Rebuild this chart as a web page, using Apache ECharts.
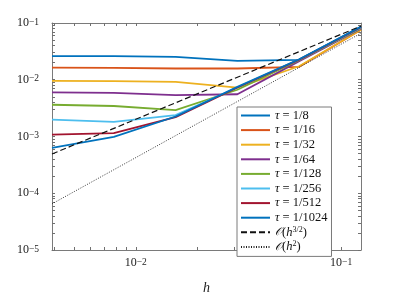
<!DOCTYPE html>
<html>
<head>
<meta charset="utf-8">
<script src="https://cdn.jsdelivr.net/npm/echarts@6/dist/echarts.min.js"></script>
<style>html,body{margin:0;padding:0;background:#fff}#c{width:399px;height:300px}</style>
</head>
<body>
<div id="c"></div>
<script>
// ---- data ----
const hValues = [1/256, 1/128, 1/64, 1/32, 1/16, 1/8];
const tau8    = [0.0261, 0.0261, 0.0253, 0.0215, 0.0224, 0.0867];
const tau16   = [0.0164, 0.0162, 0.0158, 0.0158, 0.0169, 0.0762];
const tau32   = [0.00955, 0.00945, 0.00919, 0.00728, 0.0173, 0.0762];
const tau64   = [0.0060, 0.00586, 0.00535, 0.00555, 0.0213, 0.079];
const tau128  = [0.00363, 0.00345, 0.00292, 0.00667, 0.0221, 0.081];
const tau256  = [0.00198, 0.00181, 0.00239, 0.0073, 0.0226, 0.0824];
const tau512  = [0.00108, 0.00115, 0.0022, 0.0073, 0.0226, 0.084];
const tau1024 = [0.000628, 0.000988, 0.00225, 0.00748, 0.023, 0.0857];
const refH    = [1/256, 1/8];
const ref32   = [0.000492, 0.0884];
const ref2    = [0.000065, 0.066];
const seriesNames = ['τ = 1/8','τ = 1/16','τ = 1/32','τ = 1/64','τ = 1/128','τ = 1/256','τ = 1/512','τ = 1/1024'];
const refNames = ['O(h^{3/2})','O(h^2)'];
const xTickLabels = [0.01, 0.1];
const yTickLabels = [1e-5, 1e-4, 1e-3, 1e-2, 1e-1];
const xTicks = [0.004,0.005,0.006,0.007,0.008,0.009,0.01,0.02,0.03,0.04,0.05,0.06,0.07,0.08,0.09,0.1];
const yTicks = [];
[1e-5,1e-4,1e-3,1e-2].forEach(b => { for (let k = 1; k <= 9; k++) yTicks.push(b * k); });
yTicks.push(1e-1);
const xMin = 1/256, xMax = 1/8, yMin = 1e-5, yMax = 1e-1;

const colors = ['#0072BD','#D95319','#EDB120','#7E2F8E','#77AC30','#4DBEEE','#A2142F','#0072BD'];
const allTau = [tau8,tau16,tau32,tau64,tau128,tau256,tau512,tau1024];

const axisColor = '#7a7a7a';
const serif = 'Liberation Serif';

function powLabel(v) {
  const e = Math.log10(v);
  if (Math.abs(e - Math.round(e)) > 1e-6) return '';
  return '{b|10}{s|−' + Math.abs(Math.round(e)) + '}';
}
const labelRich = {
  b: {fontFamily: serif, fontSize: 12, color: '#222'},
  s: {fontFamily: serif, fontSize: 9.5, color: '#222', verticalAlign: 'top'}
};

const series = [];
allTau.forEach((arr, i) => {
  series.push({
    name: seriesNames[i], type: 'line',
    data: hValues.map((h, j) => [h, arr[j]]),
    showSymbol: false, symbol: 'none', symbolSize: 0,
    lineStyle: {color: colors[i], width: 1.8},
    itemStyle: {color: colors[i]},
    z: 3
  });
});
series.push({
  name: refNames[0], type: 'line', data: refH.map((h, j) => [h, ref32[j]]),
  showSymbol: false, symbol: 'none', symbolSize: 0,
  lineStyle: {color: '#111', width: 1.2, type: [6, 3]}, itemStyle: {color: '#111'}, z: 3
});
series.push({
  name: refNames[1], type: 'line', data: refH.map((h, j) => [h, ref2[j]]),
  showSymbol: false, symbol: 'none', symbolSize: 0,
  lineStyle: {color: '#222', width: 0.9, type: [1, 1.5]}, itemStyle: {color: '#222'}, z: 3
});

function axisBase(ticks) {
  return {
    type: 'log', logBase: 10,
    axisLine: {show: true, onZero: false, lineStyle: {color: axisColor, width: 1}},
    axisTick: {show: true, inside: true, length: 3, customValues: ticks, lineStyle: {color: '#707070', width: 1}},
    splitLine: {show: false}
  };
}

const chart = echarts.init(document.getElementById('c'), null, {renderer: 'canvas'});
chart.setOption({
  animation: false,
  backgroundColor: '#fff',
  grid: {left: 52, right: 38, top: 23, bottom: 39},
  xAxis: [
    Object.assign(axisBase(xTicks), {
      position: 'bottom', min: xMin, max: xMax,
      name: 'h', nameLocation: 'middle', nameGap: 31,
      nameTextStyle: {fontFamily: serif, fontStyle: 'italic', fontSize: 14, color: '#222'},
      axisLabel: {show: true, margin: 7, customValues: xTickLabels, formatter: powLabel, rich: labelRich}
    }),
    Object.assign(axisBase(xTicks), {position: 'top', min: xMin, max: xMax, axisLabel: {show: false}})
  ],
  yAxis: [
    Object.assign(axisBase(yTicks), {
      position: 'left', min: yMin, max: yMax,
      axisLabel: {show: true, margin: 13, customValues: yTickLabels, formatter: powLabel, rich: labelRich}
    }),
    Object.assign(axisBase(yTicks), {position: 'right', min: yMin, max: yMax, axisLabel: {show: false}})
  ],
  legend: {
    data: seriesNames.concat(refNames),
    orient: 'vertical', left: 237, top: 107,
    itemWidth: 29, itemHeight: 8, itemGap: 1.6,
    padding: [2, 4, 3, 3],
    itemStyle: {opacity: 0},
    borderColor: axisColor, borderWidth: 1, backgroundColor: '#fff', borderRadius: 0,
    textStyle: {
      fontFamily: serif, fontSize: 12.5, color: '#111', lineHeight: 13,
      rich: {
        i: {fontFamily: serif, fontStyle: 'italic', fontSize: 12.5, color: '#111', lineHeight: 13},
        n: {fontFamily: serif, fontSize: 12.5, color: '#111', lineHeight: 13},
        c: {fontFamily: 'DejaVu Serif', fontStyle: 'italic', fontSize: 11.5, color: '#111', lineHeight: 13},
        sup: {fontFamily: serif, fontSize: 8, color: '#111', verticalAlign: 'top', lineHeight: 9}
      }
    },
    formatter: function (name) {
      if (name.charAt(0) === 'τ') return '{i|τ}{n| ' + name.slice(1).trim() + '}';
      if (name === refNames[0]) return '{c|𝒪}{n|(}{i|h}{sup|3/2}{n|)}';
      return '{c|𝒪}{n|(}{i|h}{sup|2}{n|)}';
    }
  },
  series: series
});
</script>
</body>
</html>
